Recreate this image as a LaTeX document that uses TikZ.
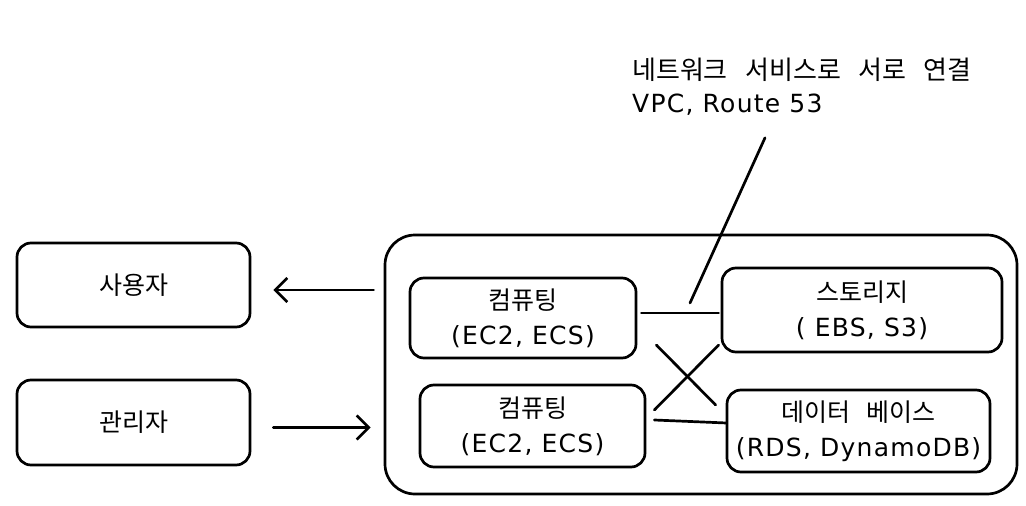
\documentclass[tikz,border=0pt]{standalone}
\usepackage{fontspec}
\setmainfont{Noto Sans CJK KR}[WordSpace=3]
\newfontfamily\latin{DejaVu Sans}[LetterSpace=5]
\usetikzlibrary{arrows.meta,calc}
\tikzset{
  box/.style={draw=black, line width=2.7pt, rounded corners=14pt, align=center,
    font=\fontsize{25}{35}\selectfont, inner sep=0pt},
  link/.style={draw=black, line width=2.7pt, line cap=round},
  arr/.style={link, -{Straight Barb[length=12pt,width=24pt,line width=2.7pt]}},
}
\newcommand{\lat}[1]{{\latin\fontsize{25}{35}\selectfont #1}}
\begin{document}
\begin{tikzpicture}[x=1pt,y=-1pt]
\useasboundingbox[fill=white] (0,0) rectangle (1026,506);
% outer container
\node[box, rounded corners=30pt, minimum width=632pt, minimum height=259pt] (outer) at (701,364.5) {};
% left boxes
\node[box, minimum width=233pt, minimum height=84pt] (user) at (133.5,285) {사용자};
\node[box, minimum width=233pt, minimum height=85pt] (admin) at (133.5,422.5) {관리자};
% inner boxes
\node[box, minimum width=226pt, minimum height=80pt] (c1) at (523,318) {컴퓨팅\\\lat{(EC2, ECS)}};
\node[box, minimum width=225pt, minimum height=82pt] (c2) at (532.5,426) {컴퓨팅\\\lat{(EC2, ECS)}};
\node[box, minimum width=280pt, minimum height=84pt] (st) at (862,310) {스토리지\\\lat{( EBS, S3)}};
\node[box, minimum width=263pt, minimum height=82pt] (db) at (858.5,431) {데이터 베이스\\\lat{(RDS, DynamoDB)}};
% note
\node[align=left, anchor=north west, inner sep=0pt, font=\fontsize{26}{33}\selectfont] (note) at (632,58) {네트워크 서비스로 서로 연결\\\lat{VPC, Route 53}};
\coordinate (netend) at (690,303);
% arrows
\draw[arr] ($(outer.west |- user)+(-10,5)$) -- ($(user.east)+(22,5)$);
\draw[arr] ($(admin.east)+(22,5)$) -- ($(outer.west |- admin)+(-13,5)$);
% connectors
\draw[link] ($(c1.east)+(4,-5)$) -- ($(st.west)+(-2,3)$);
\draw[link] ($(c2.east)+(8,-6)$) -- ($(db.west)+(1,-8)$);
\draw[link] ($(c1.east)+(19,27)$) -- ($(db.west)+(-10,-26)$);
\draw[link] ($(c2.east)+(8,-16)$) -- ($(st.west)+(-2,35)$);
\draw[link] ($(note.south west)+(133,22)$) -- (netend);
\end{tikzpicture}
\end{document}
